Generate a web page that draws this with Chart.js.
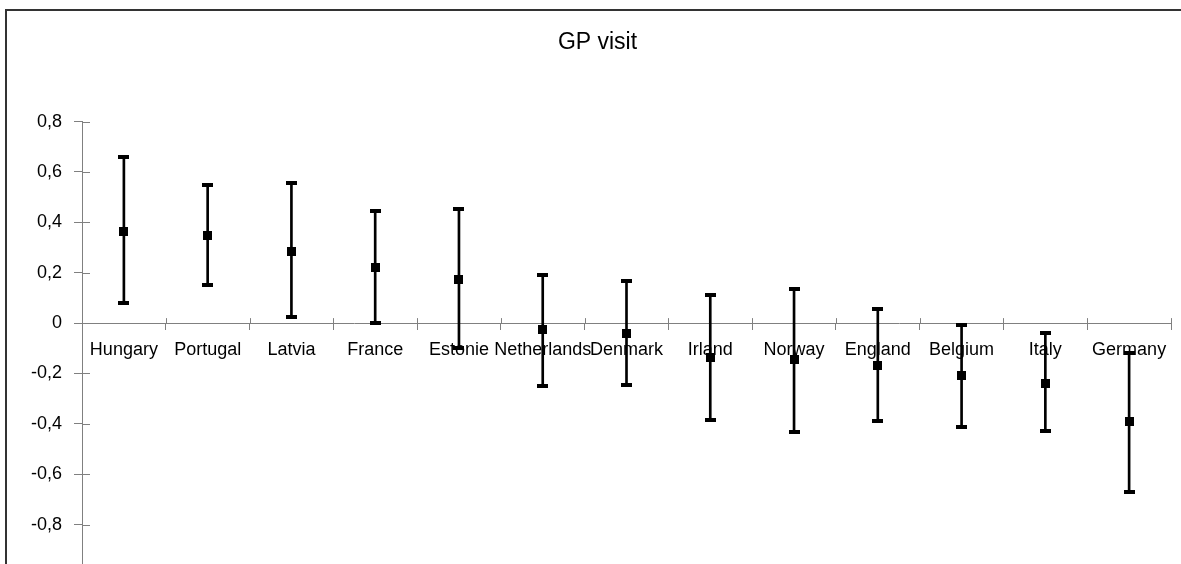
<!DOCTYPE html>
<html>
<head>
<meta charset="utf-8">
<script src="https://cdn.jsdelivr.net/npm/chart.js@4.4.0/dist/chart.umd.min.js"></script>
<style>
html, body { margin: 0; padding: 0; background: #fff; overflow: hidden; }
#wrap { position: relative; width: 1181px; height: 600px; }
#frame { position: absolute; left: 5px; top: 9px; right: -10px; bottom: -10px; border-left: 2px solid #333; border-top: 2px solid #333; }
canvas { position: absolute; left: 0; top: 0; }
</style>
</head>
<body>
<div id="wrap"><div id="frame"></div><canvas id="chart" width="1181" height="600"></canvas></div>
<script>
// --- Data ---
const countries = ['Hungary', 'Portugal', 'Latvia', 'France', 'Estonie', 'Netherlands', 'Denmark', 'Irland', 'Norway', 'England', 'Belgium', 'Italy', 'Germany'];
const means = [0.365, 0.348, 0.285, 0.222, 0.173, -0.025, -0.040, -0.138, -0.145, -0.169, -0.209, -0.239, -0.392];
const upper = [0.659, 0.548, 0.556, 0.445, 0.452, 0.190, 0.166, 0.111, 0.134, 0.055, -0.009, -0.041, -0.119];
const lower = [0.080, 0.150, 0.024, -0.001, -0.099, -0.249, -0.247, -0.384, -0.431, -0.390, -0.414, -0.430, -0.670];
const yMin = -1, yMax = 0.8, yStep = 0.2;

const FONT = 'Liberation Sans, Arial, sans-serif';
const AXIS = '#808080';

// small canvases used as point styles
function block(w, h) {
    const c = document.createElement('canvas');
    c.width = w; c.height = h;
    const ctx = c.getContext('2d');
    ctx.fillStyle = '#000';
    ctx.fillRect(0, 0, w, h);
    return c;
}
const capStyle = block(11, 4);
const markStyle = block(9, 9);

// tick marks that cross the axis lines
const crossTicks = {
    id: 'crossTicks',
    beforeDatasetsDraw(chart) {
        const { ctx, scales: { x, y } } = chart;
        const zeroY = y.getPixelForValue(0);
        ctx.save();
        ctx.strokeStyle = AXIS;
        ctx.lineWidth = 1;
        ctx.beginPath();
        y.ticks.forEach(t => {
            const py = Math.round(y.getPixelForValue(t.value)) + 0.5;
            ctx.moveTo(x.left, py);
            ctx.lineTo(x.left + 8, py);
        });
        const n = countries.length;
        for (let i = 0; i <= n; i++) {
            const px = Math.round(x.left + i * x.width / n) + 0.5;
            ctx.moveTo(px, zeroY - 5);
            ctx.lineTo(px, zeroY);
        }
        ctx.stroke();
        ctx.restore();
    }
};

function fmt(v) {
    return String(Math.round(v * 10) / 10).replace('.', ',');
}

new Chart(document.getElementById('chart').getContext('2d'), {
    type: 'bar',
    data: {
        labels: countries,
        datasets: [
            {
                type: 'line',
                data: means,
                showLine: false,
                pointStyle: markStyle,
                pointRadius: 5,
                order: 0
            },
            {
                type: 'line',
                data: upper,
                showLine: false,
                pointStyle: capStyle,
                pointRadius: 5,
                order: 1
            },
            {
                type: 'line',
                data: lower,
                showLine: false,
                pointStyle: capStyle,
                pointRadius: 5,
                order: 1
            },
            {
                type: 'bar',
                data: lower.map((l, i) => [l, upper[i]]),
                backgroundColor: '#000',
                borderWidth: 0,
                barThickness: 2,
                order: 5
            }
        ]
    },
    options: {
        responsive: false,
        animation: false,
        layout: { padding: { left: 24, right: 10, top: 0, bottom: 25 } },
        plugins: {
            legend: { display: false },
            tooltip: { enabled: false },
            title: {
                display: true,
                text: 'GP visit',
                color: '#000',
                font: { family: FONT, size: 23, weight: 'normal' },
                padding: { top: 29, bottom: 65 }
            }
        },
        scales: {
            x: {
                type: 'category',
                position: { y: 0 },
                offset: true,
                grid: { display: true, drawOnChartArea: false, drawTicks: true, tickLength: 6, color: AXIS, offset: true },
                border: { color: AXIS, width: 1 },
                ticks: { color: '#000', font: { family: FONT, size: 18 }, padding: 10, maxRotation: 0, autoSkip: false }
            },
            y: {
                min: yMin,
                max: yMax,
                afterFit(scale) { scale.width = 58; },
                grid: { display: true, drawOnChartArea: false, drawTicks: true, tickLength: 8, color: AXIS },
                border: { color: AXIS, width: 1 },
                ticks: { stepSize: yStep, color: '#000', font: { family: FONT, size: 18 }, padding: 12, callback: v => fmt(v) }
            }
        }
    },
    plugins: [crossTicks]
});
</script>
</body>
</html>
